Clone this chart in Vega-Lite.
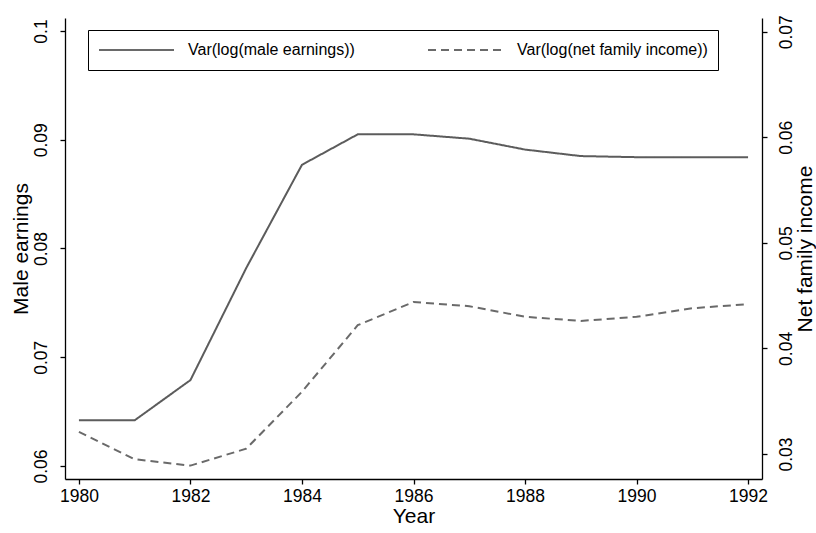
{
  "$schema": "https://vega.github.io/schema/vega-lite/v6.json",
  "width": 697,
  "height": 461,
  "autosize": "none",
  "padding": {"left": 65, "top": 18, "right": 54, "bottom": 54},
  "background": "white",
  "config": {
    "view": {"stroke": null},
    "font": "Liberation Sans",
    "axis": {
      "grid": false,
      "domainColor": "black",
      "tickColor": "black",
      "labelColor": "black",
      "titleColor": "black",
      "labelFontSize": 17.5,
      "titleFontSize": 21,
      "titleFontWeight": "normal",
      "tickSize": 5,
      "domainWidth": 1.3,
      "tickWidth": 1.3
    }
  },
  "data": {
    "values": [
      {"year": 1980, "series": "Var(log(male earnings))", "value": 0.0642},
      {"year": 1981, "series": "Var(log(male earnings))", "value": 0.0642},
      {"year": 1982, "series": "Var(log(male earnings))", "value": 0.0679},
      {"year": 1983, "series": "Var(log(male earnings))", "value": 0.0782},
      {"year": 1984, "series": "Var(log(male earnings))", "value": 0.0877},
      {"year": 1985, "series": "Var(log(male earnings))", "value": 0.0905},
      {"year": 1986, "series": "Var(log(male earnings))", "value": 0.0905},
      {"year": 1987, "series": "Var(log(male earnings))", "value": 0.0901},
      {"year": 1988, "series": "Var(log(male earnings))", "value": 0.0891},
      {"year": 1989, "series": "Var(log(male earnings))", "value": 0.0885},
      {"year": 1990, "series": "Var(log(male earnings))", "value": 0.0884},
      {"year": 1991, "series": "Var(log(male earnings))", "value": 0.0884},
      {"year": 1992, "series": "Var(log(male earnings))", "value": 0.0884},
      {"year": 1980, "series": "Var(log(net family income))", "value": 0.0321},
      {"year": 1981, "series": "Var(log(net family income))", "value": 0.0295},
      {"year": 1982, "series": "Var(log(net family income))", "value": 0.0289},
      {"year": 1983, "series": "Var(log(net family income))", "value": 0.0305},
      {"year": 1984, "series": "Var(log(net family income))", "value": 0.0359},
      {"year": 1985, "series": "Var(log(net family income))", "value": 0.0422},
      {"year": 1986, "series": "Var(log(net family income))", "value": 0.0444},
      {"year": 1987, "series": "Var(log(net family income))", "value": 0.0440},
      {"year": 1988, "series": "Var(log(net family income))", "value": 0.0430},
      {"year": 1989, "series": "Var(log(net family income))", "value": 0.0426},
      {"year": 1990, "series": "Var(log(net family income))", "value": 0.0430},
      {"year": 1991, "series": "Var(log(net family income))", "value": 0.0438},
      {"year": 1992, "series": "Var(log(net family income))", "value": 0.0442}
    ]
  },
  "encoding": {
    "x": {
      "field": "year",
      "type": "quantitative",
      "scale": {"domain": [1979.75, 1992.25], "nice": false, "zero": false},
      "axis": {
        "title": "Year",
        "values": [1980, 1982, 1984, 1986, 1988, 1990, 1992],
        "format": "d",
        "labelPadding": 3,
        "titlePadding": 1
      }
    }
  },
  "layer": [
    {
      "transform": [{"filter": "datum.series === 'Var(log(male earnings))'"}],
      "mark": {"type": "line", "stroke": "#5c5c5c", "strokeWidth": 2},
      "encoding": {
        "y": {
          "field": "value",
          "type": "quantitative",
          "scale": {"domain": [0.0588, 0.1012], "nice": false, "zero": false},
          "axis": {
            "title": "Male earnings",
            "orient": "left",
            "values": [0.06, 0.07, 0.08, 0.09, 0.1],
            "format": "~g",
            "labelAngle": -90,
            "labelAlign": "center",
            "labelBaseline": "bottom",
            "labelPadding": 10,
            "titlePadding": 1
          }
        },
        "strokeDash": {
          "field": "series",
          "type": "nominal",
          "scale": {
            "domain": ["Var(log(male earnings))", "Var(log(net family income))"],
            "range": [[1, 0], [8, 5]]
          },
          "legend": {
            "title": null,
            "orient": "none",
            "legendX": 23,
            "legendY": 12,
            "direction": "horizontal",
            "symbolType": "stroke",
            "symbolSize": 5625,
            "symbolStrokeWidth": 2,
            "symbolStrokeColor": "#5c5c5c",
            "clipHeight": 20,
            "labelFontSize": 16,
            "labelColor": "black",
            "labelOffset": 13,
            "labelLimit": 400,
            "columnPadding": 72,
            "padding": 10,
            "strokeColor": "black",
            "fillColor": "white"
          }
        }
      }
    },
    {
      "transform": [{"filter": "datum.series === 'Var(log(net family income))'"}],
      "mark": {"type": "line", "stroke": "#6a6a6a", "strokeWidth": 2},
      "encoding": {
        "y": {
          "field": "value",
          "type": "quantitative",
          "scale": {"domain": [0.02763, 0.0713], "nice": false, "zero": false},
          "axis": {
            "title": "Net family income",
            "orient": "right",
            "values": [0.03, 0.04, 0.05, 0.06, 0.07],
            "format": "~g",
            "labelAngle": -90,
            "labelAlign": "center",
            "labelBaseline": "top",
            "labelPadding": 10,
            "titleAngle": 270,
            "titleBaseline": "top",
            "titlePadding": 0
          }
        },
        "strokeDash": {
          "field": "series",
          "type": "nominal"
        }
      }
    }
  ],
  "resolve": {"scale": {"y": "independent"}}
}
